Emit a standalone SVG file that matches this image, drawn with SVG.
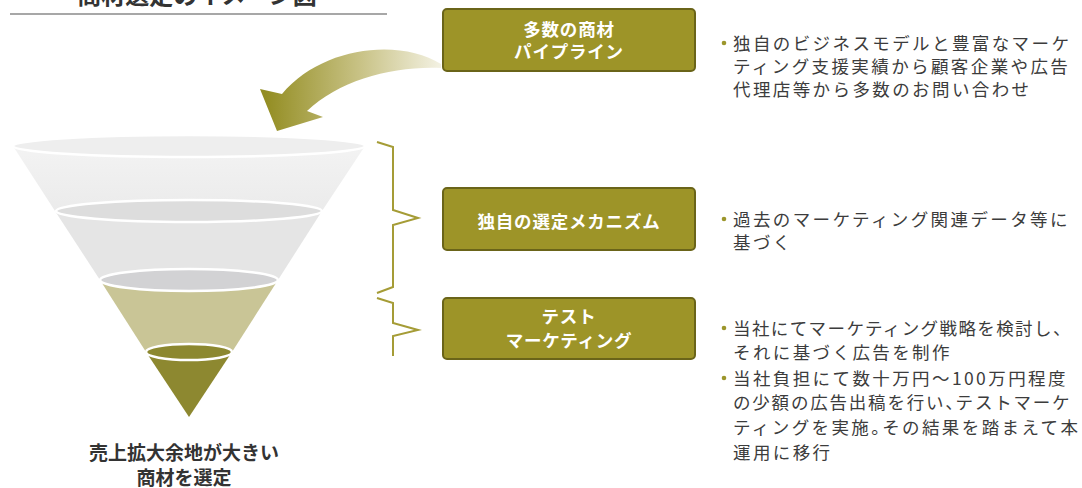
<svg xmlns="http://www.w3.org/2000/svg" width="1082" height="488" viewBox="0 0 1082 488">
<defs>
<style>
.box{fill:#9d9428;stroke:#6a6419;stroke-width:2}
.btxt{font-family:"Noto Sans CJK JP","Noto Sans",sans-serif;font-weight:bold;font-size:17.5px;letter-spacing:0.8px;fill:#ffffff;text-anchor:middle}
.desc{font-family:"Noto Sans CJK JP","Noto Sans",sans-serif;font-size:17.5px;letter-spacing:2.4px;fill:#3c3c3c}
.bul{fill:#9c962c}
.brace{fill:none;stroke:#a59c36;stroke-width:2;stroke-linejoin:miter}
.ring{stroke:#ffffff;stroke-width:2.5}
.cap{font-family:"Noto Sans CJK JP","Noto Sans",sans-serif;font-weight:bold;font-size:19px;fill:#333333;text-anchor:middle}
</style>
<linearGradient id="arrowGrad" x1="440" y1="0" x2="265" y2="0" gradientUnits="userSpaceOnUse">
<stop offset="0" stop-color="#f3f1e2"/>
<stop offset="0.45" stop-color="#c9c387"/>
<stop offset="1" stop-color="#938d22"/>
</linearGradient>
<linearGradient id="topGrad" x1="0" y1="146" x2="0" y2="211" gradientUnits="userSpaceOnUse">
<stop offset="0" stop-color="#f3f3f3"/>
<stop offset="1" stop-color="#ebebeb"/>
</linearGradient>
</defs>
<rect width="1082" height="488" fill="#ffffff"/>

<g id="title">
<text x="197" y="4" font-family="'Noto Sans CJK JP',sans-serif" font-weight="bold" font-size="24" fill="#333" text-anchor="middle">商材選定のイメージ図</text>
<line x1="10" y1="14" x2="387" y2="14" stroke="#8a8a8a" stroke-width="1.5"/>
</g>

<g id="funnel">
<polygon points="13,146 365,146 322,211 55,211" fill="url(#topGrad)"/>
<polygon points="55,211 322,211 278,280 100,280" fill="#e5e5e5"/>
<polygon points="100,280 278,280 232,352 146,352" fill="#c9c596"/>
<polygon points="146,352 232,352 189,417" fill="#8d8830"/>
<ellipse class="ring" cx="189" cy="146" rx="176" ry="11" fill="#eeeeee"/>
<ellipse class="ring" cx="189" cy="211" rx="133" ry="11" fill="#dddddd"/>
<ellipse class="ring" cx="189" cy="280" rx="89" ry="11" fill="#d2d2d4"/>
<ellipse class="ring" cx="189" cy="352" rx="43" ry="8" fill="#8c8830"/>
</g>

<g id="caption">
<text class="cap" x="184" y="460">売上拡大余地が大きい</text>
<text class="cap" x="184" y="485">商材を選定</text>
</g>

<g id="connectors">
<path d="M 441 64 C 400 38, 322 46, 282 94 L 260 89 L 277 131 L 323 117 L 307 111 C 340 80, 392 66, 441 68 Z" fill="url(#arrowGrad)"/>
<polyline class="brace" points="377,142 393,147 393,210 418,218 393,225 393,287 377,293"/>
<polyline class="brace" points="377,298 393,303 393,323 418,330 393,336 393,356"/>
</g>

<g id="node-pipeline">
<rect class="box" x="443" y="9" width="252" height="62" rx="4"/>
<text class="btxt" x="569" y="36">多数の商材</text>
<text class="btxt" x="569" y="58">パイプライン</text>
</g>

<g id="node-mechanism">
<rect class="box" x="443" y="188" width="252" height="62" rx="4"/>
<text class="btxt" x="569" y="228">独自の選定メカニズム</text>
</g>

<g id="node-test">
<rect class="box" x="443" y="298" width="252" height="61" rx="4"/>
<text class="btxt" x="569" y="323">テスト</text>
<text class="btxt" x="569" y="347">マーケティング</text>
</g>

<g id="desc-pipeline">
<circle class="bul" cx="724" cy="43" r="2.3"/>
<text class="desc" x="733" y="50">独自のビジネスモデルと豊富なマーケ</text>
<text class="desc" x="733" y="73">ティング支援実績から顧客企業や広告</text>
<text class="desc" x="733" y="96">代理店等から多数のお問い合わせ</text>
</g>

<g id="desc-mechanism">
<circle class="bul" cx="724" cy="219" r="2.3"/>
<text class="desc" x="733" y="226">過去のマーケティング関連データ等に</text>
<text class="desc" x="733" y="249">基づく</text>
</g>

<g id="desc-test">
<circle class="bul" cx="724" cy="328" r="2.3"/>
<text class="desc" x="733" y="335" style="letter-spacing:1.4px">当社にてマーケティング戦略を検討し、</text>
<text class="desc" x="733" y="359">それに基づく広告を制作</text>
<circle class="bul" cx="724" cy="378" r="2.3"/>
<text class="desc" x="733" y="385">当社負担にて数十万円～100万円程度</text>
<text class="desc" x="733" y="409" style="letter-spacing:1.8px">の少額の広告出稿を行い、<tspan dx="-9">テストマーケ</tspan></text>
<text class="desc" x="733" y="434">ティングを実施。<tspan dx="-9">その結果を踏まえて本</tspan></text>
<text class="desc" x="733" y="459">運用に移行</text>
</g>
</svg>
